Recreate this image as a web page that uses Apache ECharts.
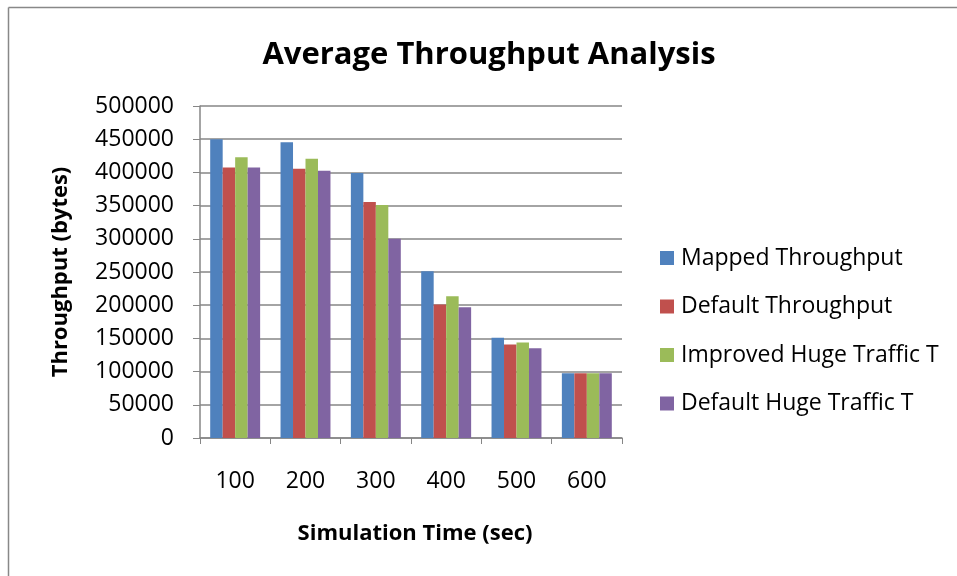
<!DOCTYPE html>
<html>
<head>
<meta charset="utf-8">
<script src="https://cdn.jsdelivr.net/npm/echarts@6/dist/echarts.min.js"></script>
<style>html,body{margin:0;padding:0;background:#fff}#c{width:957px;height:576px}</style>
</head>
<body>
<div id="c"></div>
<script>
var categories = ['100', '200', '300', '400', '500', '600'];
var seriesNames = ['Mapped Throughput', 'Default Throughput', 'Improved Huge Traffic T', 'Default Huge Traffic T'];
var mapped = [450000, 445500, 399000, 251000, 151000, 97500];
var defaultTp = [407500, 405500, 355500, 201000, 141000, 97500];
var improvedHuge = [423000, 420500, 351000, 213500, 144000, 97500];
var defaultHuge = [407500, 402500, 300000, 197000, 135000, 97500];
var colors = ['#4F81BD', '#C0504D', '#9BBB59', '#8064A2'];
var seriesData = [mapped, defaultTp, improvedHuge, defaultHuge];

var font = '"Open Sans", sans-serif';
var chart = echarts.init(document.getElementById('c'));
chart.setOption({
  animation: false,
  backgroundColor: '#fff',
  title: {
    text: 'Average Throughput Analysis',
    left: 484, top: 35, textAlign: 'center',
    textStyle: {fontFamily: font, fontSize: 31, fontWeight: 'bold', color: '#000'}
  },
  graphic: [
    {type: 'line', shape: {x1: 8.5, y1: 7.5, x2: 957, y2: 7.5}, style: {stroke: '#888', lineWidth: 1.5}},
    {type: 'line', shape: {x1: 8.5, y1: 7.5, x2: 8.5, y2: 576}, style: {stroke: '#888', lineWidth: 1.5}}
  ],
  legend: {
    orient: 'vertical', left: 660, top: 246, padding: 0,
    itemWidth: 14, itemHeight: 14, itemGap: 24.5,
    icon: 'rect',
    data: seriesNames,
    textStyle: {fontFamily: font, fontSize: 23, color: '#000', lineHeight: 24, padding: [0, 0, 0, 2]}
  },
  grid: {left: 200, top: 106, width: 422, height: 332, containLabel: false},
  xAxis: {
    type: 'category', data: categories,
    name: 'Simulation Time (sec)', nameLocation: 'middle', nameGap: 85,
    nameTextStyle: {fontFamily: font, fontSize: 22, fontWeight: 'bold', color: '#000', padding: [0, 0, 0, 8]},
    axisLine: {lineStyle: {color: '#868686', width: 1.5}},
    axisTick: {show: true, length: 6, lineStyle: {color: '#868686'}},
    axisLabel: {fontFamily: font, fontSize: 23, color: '#000', margin: 32}
  },
  yAxis: {
    type: 'value', min: 0, max: 500000, interval: 50000,
    name: 'Throughput (bytes)', nameLocation: 'middle', nameGap: 128,
    nameTextStyle: {fontFamily: font, fontSize: 22, fontWeight: 'bold', color: '#000'},
    axisLine: {show: true, lineStyle: {color: '#868686', width: 1.5}},
    axisTick: {show: true, length: 7, lineStyle: {color: '#868686'}},
    axisLabel: {fontFamily: font, fontSize: 23, color: '#000', margin: 26, formatter: function (v) { return String(v); }},
    splitLine: {lineStyle: {color: '#868686', width: 1.5}}
  },
  series: seriesNames.map(function (n, i) {
    return {
      name: n, type: 'bar', data: seriesData[i],
      itemStyle: {color: colors[i]},
      barGap: '0%', barCategoryGap: '29%'
    };
  })
});
</script>
</body>
</html>
